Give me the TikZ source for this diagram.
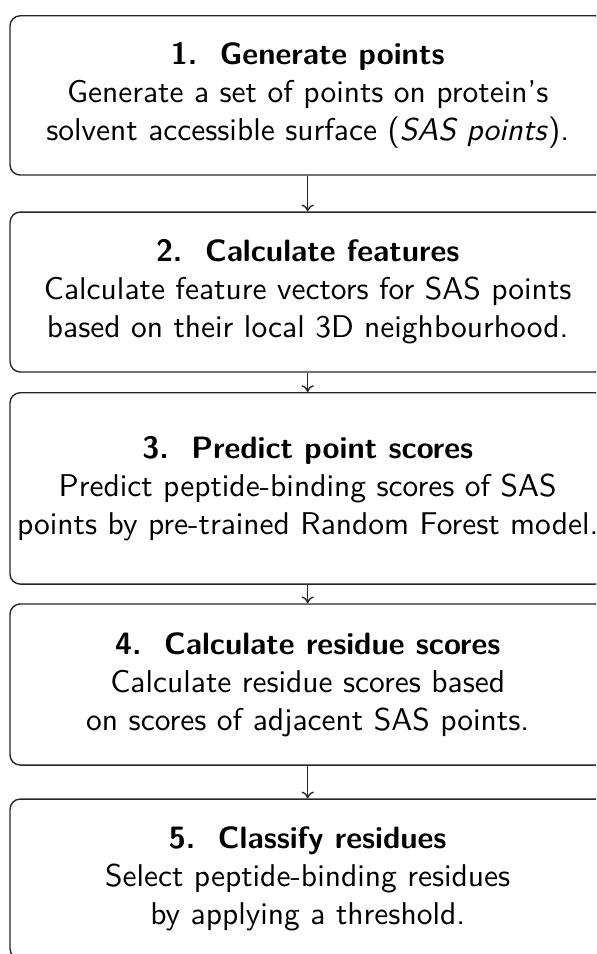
\documentclass[tikz,border=0pt]{standalone}
\usetikzlibrary{arrows.meta}
\newcommand{\steptitle}[1]{{\fontsize{10pt}{12.3pt}\selectfont\bfseries #1}}
\begin{document}
\begin{tikzpicture}[x=0.324pt,y=-0.324pt,
  stepbox/.style={draw=black!85, line width=0.45pt, rounded corners=3.3pt,
    minimum width=192.9pt, align=center, inner sep=0pt,
    font=\sffamily\fontsize{10.2pt}{12.3pt}\selectfont},
  flow/.style={draw=black!85, line width=0.45pt, -{To[length=2.2pt,width=4pt]}}]
\useasboundingbox (0,0) rectangle (596,954);
\clip (0,0) rectangle (596,954);
\node[stepbox, minimum height=51.6pt] (b1) at (307.7,95.4)
  {\steptitle{1.\ \ Generate points}\\Generate a set of points on protein's\\solvent accessible surface (\textit{SAS points}).};
\node[stepbox, minimum height=51.8pt] (b2) at (307.7,292)
  {\steptitle{2.\ \ Calculate features}\\Calculate feature vectors for SAS points\\based on their local 3D neighbourhood.};
\node[stepbox, minimum height=62.0pt] (b3) at (307.7,488.4)
  {\steptitle{3.\ \ Predict point scores}\\Predict peptide-binding scores of SAS\\points by pre-trained Random Forest model.};
\node[stepbox, minimum height=52.2pt] (b4) at (307.7,684.5)
  {\steptitle{4.\ \ Calculate residue scores}\\Calculate residue scores based\\on scores of adjacent SAS points.};
\node[stepbox, minimum height=51.8pt] (b5) at (307.7,879)
  {\steptitle{5.\ \ Classify residues}\\Select peptide-binding residues\\by applying a threshold.};
\draw[flow] (b1.south) -- (b2.north);
\draw[flow] (b2.south) -- (b3.north);
\draw[flow] (b3.south) -- (b4.north);
\draw[flow] (b4.south) -- (b5.north);
\end{tikzpicture}
\end{document}
